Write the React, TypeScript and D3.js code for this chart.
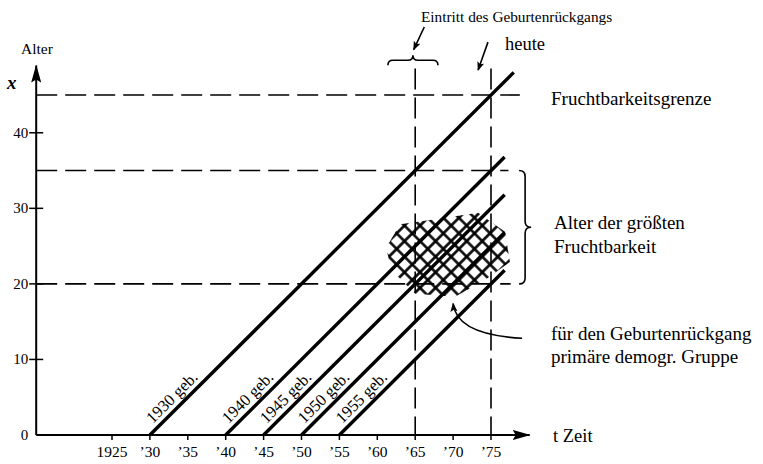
import * as d3 from 'd3'

// cohorts (birth year) and the year their life line is drawn up to
const cohorts = [1930, 1940, 1945, 1950, 1955]
const cohortEnds = [1978, 1976.8, 1976.8, 1976.8, 1976.8]

const xTicks = [1925, 1930, 1935, 1940, 1945, 1950, 1955, 1960, 1965, 1970, 1975]
const xTickLabels = ['1925', '’30', '’35', '’40', '’45', '’50', '’55', '’60', '’65', '’70', '’75']
const yTicks = [0, 10, 20, 30, 40]

// horizontal reference ages and how far they run (year)
const refAges = [45, 35, 20]
const refAgeEnds = [1978.8, 1977.3, 1977.6]
// vertical reference years
const refYears = [1965, 1975]

// outline of the hatched group (year, age)
const hatchYears = [1961.15, 1963.0, 1966.95, 1973.3, 1976.85, 1977.5, 1974.2, 1970.25, 1965.0, 1961.9]
const hatchAges = [24.75, 27.9, 28.45, 29.4, 26.9, 22.9, 20.5, 18.3, 18.7, 21.8]

const W = 763
const H = 464
const font = '"Liberation Serif", serif'

export default function App() {
  const x = d3.scaleLinear().domain([1925, 1975]).range([112, 491])
  const y = d3.scaleLinear().domain([0, 45]).range([435, 95])

  const line = d3.line<[number, number]>().x(d => x(d[0])).y(d => y(d[1]))

  const x0 = x(1915)
  const y0 = y(0)
  const axisEnd = x(1980.1)
  const axisTop = y(48.9)

  const hatchPts: [number, number][] = hatchYears.map((yr, i) => [yr, hatchAges[i]])
  const hatchPath = line.curve(d3.curveLinearClosed)(hatchPts) || ''
  const straight = d3.line<[number, number]>().x(d => x(d[0])).y(d => y(d[1]))

  // top brace above 1965
  const bx1 = x(1961.4), bx2 = x(1968.0), by = y(49.6), bm = (bx1 + bx2) / 2, bd = 5
  const topBrace = `M${bx1},${by + bd} Q${bx1},${by} ${bx1 + bd},${by} L${bm - bd},${by} Q${bm},${by} ${bm},${by - bd} Q${bm},${by} ${bm + bd},${by} L${bx2 - bd},${by} Q${bx2},${by} ${bx2},${by + bd}`

  // right brace for ages 20..35
  const rx = x(1979.5), ry1 = y(35), ry2 = y(20), rm = (ry1 + ry2) / 2, rd = 6
  const rightBrace = `M${rx - rd},${ry1} Q${rx},${ry1} ${rx},${ry1 + rd} L${rx},${rm - rd} Q${rx},${rm} ${rx + rd},${rm} Q${rx},${rm} ${rx},${rm + rd} L${rx},${ry2 - rd} Q${rx},${ry2} ${rx - rd},${ry2}`

  const curveArrow = `M${x(1979.1)},${y(12.8)} C${x(1973.5)},${y(13.1)} ${x(1970.3)},${y(14.6)} ${x(1970.0)},${y(17.4)}`

  return (
    <svg width={W} height={H} style={{ position: 'absolute', left: 0, top: 0, background: '#fff' }}>
      <defs>
        <marker id="axArrow" viewBox="0 0 18 10" refX="17" refY="5" markerWidth="18" markerHeight="10" markerUnits="userSpaceOnUse" orient="auto">
          <path d="M0,0 L18,5 L0,10 L3,5 Z" fill="#000" />
        </marker>
        <marker id="smArrow" viewBox="0 0 10 8" refX="9" refY="4" markerWidth="9" markerHeight="8" markerUnits="userSpaceOnUse" orient="auto">
          <path d="M0,0 L10,4 L0,8 L2,4 Z" fill="#000" />
        </marker>
        <pattern id="hatch" patternUnits="userSpaceOnUse" width="11" height="11" patternTransform="rotate(45)">
          <path d="M5.5,0 V11 M0,5.5 H11" stroke="#000" strokeWidth="2.6" />
        </pattern>
        <clipPath id="hatchClip">
          <path d={hatchPath} />
        </clipPath>
      </defs>

      {/* hatched group */}
      <rect x={x(1960)} y={y(32)} width={x(1980) - x(1960)} height={y(16) - y(32)} fill="url(#hatch)" clipPath="url(#hatchClip)" />

      {/* reference dashed lines */}
      {refAges.map((a, i) => (
        <path key={'ra' + a} d={straight([[1915, a], [refAgeEnds[i], a]]) || ''} stroke="#000" strokeWidth={1.6} strokeDasharray="21,8" fill="none" />
      ))}
      {refYears.map(yr => (
        <path key={'ry' + yr} d={straight([[yr, 48.5], [yr, 0]]) || ''} stroke="#000" strokeWidth={1.6} strokeDasharray="21,8" fill="none" />
      ))}

      {/* cohort lines */}
      {cohorts.map((c, i) => (
        <path key={'c' + c} d={straight([[c, 0], [cohortEnds[i], cohortEnds[i] - c]]) || ''} stroke="#000" strokeWidth={3.4} fill="none" />
      ))}
      {cohorts.map(c => {
        const px = x(c + 0.9) - 4
        const py = y(0.9) - 4
        return (
          <text key={'cl' + c} x={px} y={py} transform={`rotate(-45 ${px} ${py})`} fontFamily={font} fontSize={16.5}>
            {c} geb.
          </text>
        )
      })}

      {/* axes */}
      <line x1={x0} y1={y0} x2={axisEnd} y2={y0} stroke="#000" strokeWidth={2} markerEnd="url(#axArrow)" />
      <line x1={x0} y1={y0} x2={x0} y2={axisTop} stroke="#000" strokeWidth={2} markerEnd="url(#axArrow)" />
      {xTicks.map((t, i) => (
        <g key={'xt' + t}>
          <line x1={x(t)} x2={x(t)} y1={y0} y2={y0 + 5} stroke="#000" strokeWidth={1.5} />
          <text x={x(t)} y={y0 + 22} textAnchor="middle" fontFamily={font} fontSize={15.5}>{xTickLabels[i]}</text>
        </g>
      ))}
      {yTicks.map(t => (
        <g key={'yt' + t}>
          {t > 0 && <line x1={x0 - 7} x2={x0 + 7} y1={y(t)} y2={y(t)} stroke="#000" strokeWidth={1.5} />}
          <text x={x0 - 8} y={y(t) + 5} textAnchor="end" fontFamily={font} fontSize={15}>{t}</text>
        </g>
      ))}
      <text x={21} y={54} fontFamily={font} fontSize={15.5}>Alter</text>
      <text x={7} y={89} fontFamily={font} fontSize={19} fontStyle="italic" fontWeight="bold">x</text>
      <text x={553} y={442} fontFamily={font} fontSize={18.5}>t Zeit</text>

      {/* annotations */}
      <path d={topBrace} stroke="#000" strokeWidth={1.6} fill="none" />
      <path d={rightBrace} stroke="#000" strokeWidth={1.6} fill="none" />
      <path d={straight([[1966.2, 54], [1964.8, 51]]) || ''} stroke="#000" strokeWidth={1.6} markerEnd="url(#smArrow)" />
      <path d={straight([[1974.6, 52], [1973.3, 48.3]]) || ''} stroke="#000" strokeWidth={1.6} markerEnd="url(#smArrow)" />
      <path d={curveArrow} stroke="#000" strokeWidth={1.6} fill="none" markerEnd="url(#smArrow)" />

      <text x={421} y={22} fontFamily={font} fontSize={15.3}>Eintritt des Geburtenrückgangs</text>
      <text x={505} y={50} fontFamily={font} fontSize={18.5}>heute</text>
      <text x={551} y={105} fontFamily={font} fontSize={19}>Fruchtbarkeitsgrenze</text>
      <text x={554} y={229} fontFamily={font} fontSize={19}>Alter der größten</text>
      <text x={554} y={253} fontFamily={font} fontSize={19}>Fruchtbarkeit</text>
      <text x={551} y={340} fontFamily={font} fontSize={19}>für den Geburtenrückgang</text>
      <text x={551} y={363} fontFamily={font} fontSize={19}>primäre demogr. Gruppe</text>
    </svg>
  )
}
